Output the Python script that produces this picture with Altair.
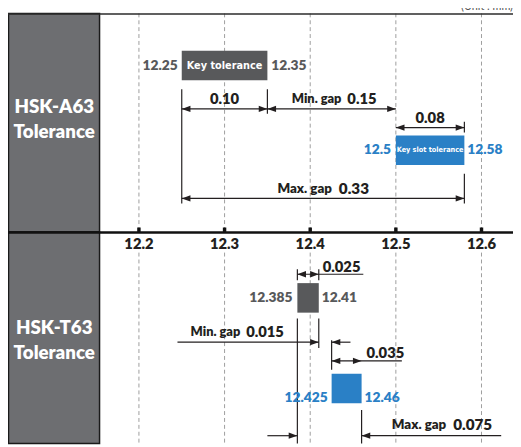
import altair as alt
import pandas as pd

# ---------------- data ----------------
ticks = [12.2, 12.3, 12.4, 12.5, 12.6]
panel_titles = ["HSK-A63", "HSK-T63"]
panel_sub = "Tolerance"
unit_label = "(Unit : mm)"
box_labels = ["Key tolerance", "Key slot tolerance"]

a63_key = [12.25, 12.35]
a63_slot = [12.50, 12.58]
a63_key_width = "0.10"
a63_min_gap = "0.15"
a63_slot_width = "0.08"
a63_max_gap = "0.33"

t63_key = [12.385, 12.41]
t63_slot = [12.425, 12.46]
t63_key_width = "0.025"
t63_min_gap = "0.015"
t63_slot_width = "0.035"
t63_max_gap = "0.075"

min_gap_word = "Min. gap"
max_gap_word = "Max. gap"

# ---------------- style ----------------
DARK = "#58595b"
BLUE = "#2a80c6"
INK = "#231f20"
PANEL = "#6d6e71"
GRID = "#9d9d9d"
FONT = "Lato"
NARROW = "DejaVu Sans Condensed, sans-serif"

W, H = 420, 437
PX = 870.0  # pixels per mm (from the tick spacing)
X0 = 12.2 - 40 / PX
X1 = X0 + W / PX

xs = alt.Scale(domain=[X0, X1], nice=False, zero=False)
ys = alt.Scale(domain=[0, H], reverse=True, nice=False, zero=False)


def X(f="x"):
    return alt.X(f"{f}:Q", scale=xs, axis=None)


def Y(f="y"):
    return alt.Y(f"{f}:Q", scale=ys, axis=None)


def fmt(v):
    return f"{v:g}"


layers = []

# left grey panels
panel_df = pd.DataFrame({"y": [0, 222], "y2": [222, H]})
layers.append(
    alt.Chart(panel_df).mark_rect(fill=PANEL, stroke="#1a1a1a", strokeWidth=1.5).encode(
        x=alt.value(-92.5), x2=alt.value(0), y=Y(), y2=alt.Y2("y2:Q")
    )
)
ptxt = pd.DataFrame({
    "t": [panel_titles[0], panel_sub, panel_titles[1], panel_sub],
    "y": [95, 121, 320, 345],
})
layers.append(
    alt.Chart(ptxt).mark_text(font=FONT, fontWeight=800, fontSize=19, color="white",
                              align="center", baseline="middle").encode(
        x=alt.value(-46), y=Y(), text="t:N"
    )
)

# dashed grid
grid_rows = []
for t in ticks:
    grid_rows.append({"x": t, "y": 0, "y2": 219})
    grid_rows.append({"x": t, "y": 243, "y2": H})
layers.append(
    alt.Chart(pd.DataFrame(grid_rows)).mark_rule(color=GRID, strokeWidth=1, strokeDash=[4, 3]).encode(
        x=X(), y=Y(), y2=alt.Y2("y2:Q")
    )
)

# top border & divider
layers.append(
    alt.Chart(pd.DataFrame({"y": [0.7]})).mark_rule(color="#2b2b2b", strokeWidth=1.5).encode(
        x=alt.value(-93), x2=alt.value(W), y=Y()
    )
)
layers.append(
    alt.Chart(pd.DataFrame({"y": [222.5]})).mark_rule(color="#111", strokeWidth=2.5).encode(
        x=alt.value(-93), x2=alt.value(W), y=Y()
    )
)
# tick squares + labels
tk = pd.DataFrame({"x": ticks, "y": [217.5] * len(ticks), "y2": [222] * len(ticks),
                   "t": [fmt(t) for t in ticks], "ly": [234] * len(ticks)})
layers.append(
    alt.Chart(tk).mark_rule(color="#111", strokeWidth=3.5).encode(x=X(), y=Y(), y2=alt.Y2("y2:Q"))
)
layers.append(
    alt.Chart(tk).mark_text(font=FONT, fontWeight=800, fontSize=15, color=INK,
                            baseline="middle").encode(x=X(), y=Y("ly"), text="t:N")
)

# tolerance boxes
boxes = pd.DataFrame({
    "x": [a63_key[0], a63_slot[0], t63_key[0], t63_slot[0]],
    "x2": [a63_key[1], a63_slot[1], t63_key[1], t63_slot[1]],
    "y": [38, 124, 274, 366],
    "y2": [68, 154, 304, 396],
    "k": ["key", "slot", "key", "slot"],
})
layers.append(
    alt.Chart(boxes).mark_rect().encode(
        x=X(), x2=alt.X2("x2:Q"), y=Y(), y2=alt.Y2("y2:Q"),
        color=alt.Color("k:N", scale=alt.Scale(domain=["key", "slot"], range=[DARK, BLUE]), legend=None),
    )
)

# extension and dimension lines
lines = [
    # A63 extension lines
    (a63_key[0], a63_key[0], 77, 193),
    (a63_key[1], a63_key[1], 77, 102),
    (a63_slot[1], a63_slot[1], 110, 121),
    (a63_slot[1], a63_slot[1], 163, 193),
    # A63 dimension lines
    (a63_key[0], a63_key[1], 97, 97),
    (a63_key[1], a63_slot[0], 97, 97),
    (a63_slot[0], a63_slot[1], 116, 116),
    (a63_key[0], a63_slot[1], 188, 188),
    # T63 extension lines
    (t63_key[0], t63_key[0], 260, 271),
    (t63_key[1], t63_key[1], 260, 271),
    (t63_key[0], t63_key[0], 310, H),
    (t63_key[1], t63_key[1], 310, 340),
    (t63_slot[0], t63_slot[0], 332, 362),
    (t63_slot[1], t63_slot[1], 403, H),
    # T63 dimension lines (with leaders)
    (t63_key[0], 12.462, 265, 265),
    (12.245, t63_key[1], 334, 334),
    (t63_slot[0], 12.447, 334, 334),
    (t63_slot[0], 12.507, 353, 353),
    (12.35, t63_key[0], 429, 429),
    (t63_slot[1], 12.623, 429, 429),
]
ldf = pd.DataFrame(lines, columns=["x", "x2", "y", "y2"])
layers.append(
    alt.Chart(ldf).mark_rule(color=INK, strokeWidth=1.2).encode(
        x=X(), x2=alt.X2("x2:Q"), y=Y(), y2=alt.Y2("y2:Q")
    )
)

# arrowheads: L = pointing left (tip at x), R = pointing right
arrows = [
    (a63_key[0], 97, "L"), (a63_key[1], 97, "R"),
    (a63_key[1], 97, "L"), (a63_slot[0], 97, "R"),
    (a63_slot[0], 116, "L"), (a63_slot[1], 116, "R"),
    (a63_key[0], 188, "L"), (a63_slot[1], 188, "R"),
    (t63_key[0], 265, "L"), (t63_key[1], 265, "R"),
    (t63_key[1], 334, "R"), (t63_slot[0], 334, "L"),
    (t63_slot[0], 353, "L"), (t63_slot[1], 353, "R"),
    (t63_key[0], 429, "R"), (t63_slot[1], 429, "L"),
]
adf = pd.DataFrame(arrows, columns=["x", "y", "d"])
for d, path in [("L", "M0,0L2.2,-0.8L2.2,0.8Z"), ("R", "M0,0L-2.2,-0.8L-2.2,0.8Z")]:
    layers.append(
        alt.Chart(adf[adf.d == d]).mark_point(shape=path, size=64, filled=True, opacity=1,
                                              color=INK, strokeWidth=0).encode(x=X(), y=Y())
    )


def label(text, x, y, align="center", dx=0, color=INK, size=13, font=FONT, weight=800):
    df = pd.DataFrame({"x": [x], "y": [y], "t": [text]})
    return alt.Chart(df).mark_text(font=font, fontWeight=weight, fontSize=size, color=color,
                                   align=align, baseline="middle", dx=dx).encode(
        x=X(), y=Y(), text="t:N")


# value labels beside boxes
layers += [
    label(fmt(a63_key[0]), a63_key[0], 53, "right", -4, DARK, 14),
    label(fmt(a63_key[1]), a63_key[1], 53, "left", 4, DARK, 14),
    label(fmt(a63_slot[0]), a63_slot[0], 139, "right", -5, BLUE, 14),
    label(fmt(a63_slot[1]), a63_slot[1], 139, "left", 3, BLUE, 14),
    label(fmt(t63_key[0]), t63_key[0], 289, "right", -5, DARK, 14),
    label(fmt(t63_key[1]), t63_key[1], 289, "left", 3, DARK, 14),
    label(fmt(t63_slot[0]), t63_slot[0], 391, "right", -4, BLUE, 14),
    label(fmt(t63_slot[1]), t63_slot[1], 391, "left", 3, BLUE, 14),
]
# box captions
layers += [
    label(box_labels[0], (a63_key[0] + a63_key[1]) / 2, 53, "center", 0, "white", 11, NARROW, "bold"),
    label(box_labels[1], (a63_slot[0] + a63_slot[1]) / 2, 139, "center", 0, "white", 7.4, NARROW, "bold"),
]
# dimension captions
mid_min = (a63_key[1] + a63_slot[0]) / 2
mid_max = (a63_key[0] + a63_slot[1]) / 2
layers += [
    label(a63_key_width, (a63_key[0] + a63_key[1]) / 2, 87, "center", 0, INK, 15),
    label(min_gap_word, mid_min, 87, "right", 10, INK, 13),
    label(a63_min_gap, mid_min, 87, "left", 16, INK, 15),
    label(a63_slot_width, (a63_slot[0] + a63_slot[1]) / 2, 106, "center", 0, INK, 15),
    label(max_gap_word, mid_max, 178, "right", 9, INK, 13.5),
    label(a63_max_gap, mid_max, 178, "left", 16, INK, 15.5),
    label(t63_key_width, t63_key[1], 258, "left", 4, INK, 15),
    label(min_gap_word, t63_key[0], 324, "right", -58, INK, 13),
    label(t63_min_gap, t63_key[0], 324, "left", -52, INK, 15),
    label(t63_slot_width, t63_slot[1], 345, "left", 5, INK, 15),
    label(max_gap_word, t63_slot[1], 418, "right", 86, INK, 13.5),
    label(t63_max_gap, t63_slot[1], 418, "left", 93, INK, 15.5),
]

# unit label (mostly above the visible page)
layers.append(
    alt.Chart(pd.DataFrame({"t": [unit_label], "y": [-1]})).mark_text(
        font=FONT, fontSize=11, color="#555", align="right", baseline="bottom").encode(
        x=alt.value(W), y=Y(), text="t:N")
)

chart = alt.layer(*layers).properties(
    width=W, height=H,
    autosize=alt.AutoSizeParams(type="none"),
    padding={"left": 93, "top": 2, "right": 0, "bottom": 0},
).configure_view(strokeWidth=0)

chart.save("out.html", embed_options={"renderer": "svg", "actions": False})
